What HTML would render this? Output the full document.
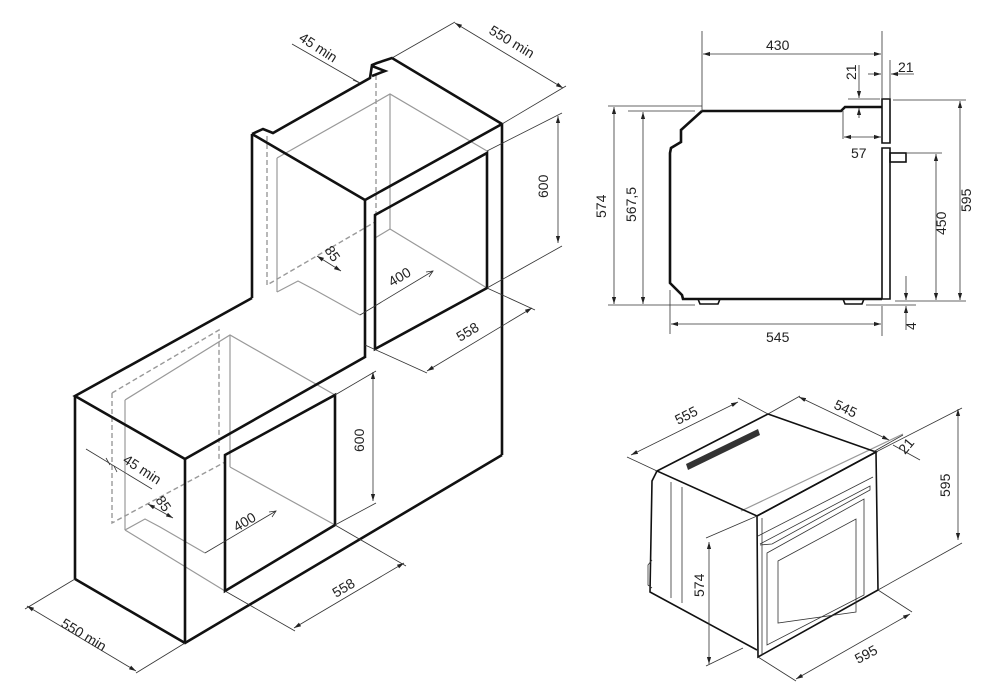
<!DOCTYPE html>
<html><head><meta charset="utf-8"><style>
html,body{margin:0;padding:0;background:#fff}
svg{display:block}
text{font-family:"Liberation Sans",sans-serif;font-size:14px;fill:#222}
.k{stroke:#111;stroke-width:2.6;fill:none;stroke-linejoin:miter}
.g{stroke:#999;stroke-width:1.2;fill:none}
.d{stroke:#999;stroke-width:1.4;fill:none;stroke-dasharray:5 3}
.t{stroke:#333;stroke-width:0.8;fill:none}
.a{stroke:#333;stroke-width:0.8;fill:none;marker-start:url(#ar);marker-end:url(#ar)}
.m{stroke:#111;stroke-width:1.6;fill:none}
</style></head><body>
<svg width="1000" height="698" viewBox="0 0 1000 698" xmlns="http://www.w3.org/2000/svg">
<defs><marker id="ar" viewBox="0 0 10 10" refX="10" refY="5" markerWidth="7" markerHeight="7" orient="auto-start-reverse" markerUnits="userSpaceOnUse"><path d="M0,2 L10,5 L0,8 z" fill="#222"/></marker></defs>

<!-- UPPER CABINET -->
<g>
<polyline class="g" points="277,158 390,94 487,151"/>
<line class="g" x1="277" y1="158" x2="277" y2="292"/>
<line class="g" x1="390" y1="94" x2="390" y2="229"/>
<line class="g" x1="390" y1="229" x2="487" y2="288"/>
<line class="g" x1="390" y1="229" x2="375" y2="238"/>
<polyline class="g" points="277,292 298,281 315,290 360,315"/>
<polyline class="d" points="267,136 267,285 375,222"/>
<line class="d" x1="376" y1="75" x2="376" y2="217"/>
<polyline class="k" points="252,134 252,298"/>
<polyline class="k" points="252,134 263,129 273,133 370,78 372,65 377,63 392,58 502,124 502,455"/>
<polyline class="k" points="372,66 385,71 372,76"/>
<polyline class="k" points="252,134 365,200 502,124"/>
<line class="k" x1="365" y1="200" x2="365" y2="358"/>
<polygon class="k" points="375,215 487,153 487,288 375,349"/>
</g>

<!-- LOWER CABINET -->
<g>
<polyline class="g" points="125,400 230,335 335,395"/>
<line class="g" x1="125" y1="400" x2="125" y2="530"/>
<line class="g" x1="230" y1="335" x2="230" y2="467"/>
<line class="g" x1="230" y1="467" x2="335" y2="525"/>
<polyline class="g" points="125,530 145,519 160,527 205,553"/>
<polyline class="g" points="125,530 225,591"/>
<polyline class="d" points="112,393 219,330 219,459"/>
<polyline class="d" points="112,393 112,523 225,462"/>
<polyline class="k" points="252,298 75,396 185,459 365,357"/>
<line class="k" x1="75" y1="396" x2="75" y2="579"/>
<line class="k" x1="185" y1="459" x2="185" y2="643"/>
<polyline class="k" points="75,579 185,643 502,455"/>
<polygon class="k" points="225,455 335,395 335,525 225,591"/>
</g>

<!-- Upper dims -->
<line class="t" x1="292" y1="44" x2="360" y2="83"/>
<polyline class="t" points="353,80 360,83"/>
<text transform="translate(298,40) rotate(33)">45 min</text>
<line class="t" x1="392" y1="58" x2="455" y2="22"/>
<line class="t" x1="502" y1="124" x2="566" y2="86"/>
<line class="a" x1="455" y1="23" x2="563" y2="88"/>
<text transform="translate(488,33) rotate(31)">550 min</text>
<line class="t" x1="487" y1="151" x2="562" y2="113"/>
<line class="t" x1="487" y1="288" x2="562" y2="246"/>
<line class="a" x1="558" y1="116" x2="558" y2="243"/>
<text transform="translate(548,198) rotate(-90)">600</text>
<line class="t" x1="487" y1="288" x2="535" y2="310"/>
<line class="t" x1="365" y1="345" x2="427" y2="373"/>
<line class="a" x1="427" y1="371" x2="532" y2="308"/>
<text transform="translate(460,342) rotate(-31)">558</text>
<line class="a" x1="317" y1="256" x2="341" y2="271"/>
<text transform="translate(324,250) rotate(55)">85</text>
<line class="t" x1="360" y1="315" x2="433" y2="271"/>
<polyline class="t" points="426,272 433,271 429,277"/>
<text transform="translate(392,287) rotate(-31)">400</text>

<!-- Lower dims -->
<line class="t" x1="86" y1="449" x2="152" y2="489"/>
<polyline class="t" points="106,458 110,465"/><polyline class="t" points="114,466 117,472"/>
<text transform="translate(122,462) rotate(33)">45 min</text>
<line class="a" x1="148" y1="504" x2="173" y2="518"/>
<text transform="translate(155,500) rotate(55)">85</text>
<line class="t" x1="205" y1="553" x2="276" y2="511"/>
<polyline class="t" points="269,512 276,511 272,517"/>
<text transform="translate(237,532) rotate(-31)">400</text>
<line class="t" x1="335" y1="395" x2="376" y2="371"/>
<line class="t" x1="335" y1="525" x2="376" y2="503"/>
<line class="a" x1="373" y1="372" x2="373" y2="501"/>
<text transform="translate(364,452) rotate(-90)">600</text>
<line class="t" x1="335" y1="525" x2="406" y2="566"/>
<line class="t" x1="225" y1="591" x2="295" y2="631"/>
<line class="a" x1="294" y1="628" x2="404" y2="563"/>
<text transform="translate(336,598) rotate(-31)">558</text>
<line class="t" x1="75" y1="579" x2="25" y2="609"/>
<line class="t" x1="185" y1="643" x2="136" y2="673"/>
<line class="a" x1="27" y1="606" x2="136" y2="671"/>
<text transform="translate(60,626) rotate(31)">550 min</text>

<!-- SIDE VIEW -->
<g>
<polyline class="k" points="702,111 841,111 845,107 882,107"/>
<polyline class="k" points="702,111 681,130 681,142 671,148 670,153 670,283 682,295 683,299 882,299"/>
<path class="m" d="M698,299 L700,304 L718,304 L720,299 M843,299 L845,304 L862,304 L864,299"/>
<path class="m" d="M882,99 L890,99 L890,143 L882,143 Z M882,148 L890,148 L890,299 L882,299 Z"/>
<rect class="m" x="890" y="153" width="16" height="9"/>
<line class="t" x1="702" y1="31" x2="702" y2="111"/>
<line class="t" x1="882" y1="31" x2="882" y2="99"/>
<line class="a" x1="703" y1="54" x2="881" y2="54"/>
<text x="766" y="50">430</text>
<polyline class="a" style="marker-start:none" points="868,74 881,74"/>
<polyline class="a" style="marker-start:none" points="914,74 891,74"/>
<line class="t" x1="890" y1="60" x2="890" y2="99"/>
<text x="898" y="72">21</text>
<line class="t" x1="848" y1="99" x2="880" y2="99"/>
<polyline class="a" style="marker-start:none" points="859,65 859,98"/>
<polyline class="a" style="marker-start:none" points="859,118 859,108"/>
<text transform="translate(856,80) rotate(-90)">21</text>
<line class="t" x1="843" y1="111" x2="843" y2="139"/>
<line class="a" x1="844" y1="137" x2="881" y2="137"/>
<text x="851" y="158">57</text>
<line class="t" x1="608" y1="106" x2="702" y2="106"/>
<line class="t" x1="628" y1="111" x2="695" y2="111"/>
<line class="t" x1="608" y1="305" x2="695" y2="305"/>
<line class="a" x1="614" y1="107" x2="614" y2="304"/>
<text transform="translate(606,218) rotate(-90)">574</text>
<line class="a" x1="643" y1="112" x2="643" y2="304"/>
<text transform="translate(636,222) rotate(-90)">567,5</text>
<line class="t" x1="670" y1="290" x2="670" y2="334"/>
<line class="t" x1="882" y1="306" x2="882" y2="336"/>
<line class="a" x1="671" y1="324" x2="881" y2="324"/>
<text x="766" y="342">545</text>
<line class="t" x1="893" y1="100" x2="966" y2="100"/>
<line class="t" x1="895" y1="301" x2="966" y2="301"/>
<line class="a" x1="960" y1="101" x2="960" y2="300"/>
<text transform="translate(971,212) rotate(-90)">595</text>
<line class="t" x1="907" y1="153" x2="942" y2="153"/>
<line class="a" x1="936" y1="154" x2="936" y2="300"/>
<text transform="translate(946,235) rotate(-90)">450</text>
<line class="t" x1="866" y1="305" x2="916" y2="305"/>
<polyline class="a" style="marker-start:none" points="906,276 906,300"/>
<polyline class="a" style="marker-start:none" points="906,330 906,306"/>
<text transform="translate(916,330) rotate(-90)">4</text>
</g>

<!-- PERSPECTIVE OVEN -->
<g>
<line class="g" x1="741" y1="511" x2="903" y2="434"/>
<polygon class="m" points="657,471 768,414 876,452 757,516"/>
<polyline class="m" points="657,471 652,481 650,592 757,650"/>
<polyline class="t" points="652,560 648,565 648,585 652,588"/>
<line class="t" x1="671" y1="482" x2="671" y2="598"/>
<line class="t" x1="682" y1="487" x2="682" y2="603"/>
<polygon class="m" points="757,516 876,452 878,590 758,657"/>
<line class="t" x1="762" y1="518" x2="762" y2="655"/>
<polyline class="t" points="758,536 873,477"/>
<polyline class="t" points="760,544 870,486 870,490 772,544 760,545"/>
<polygon class="t" points="767,553 864,499 864,595 767,645"/>
<polygon class="t" points="778,561 856,519 856,612 778,623"/>
<polygon fill="#333" points="686,464 758,429 760,435 688,470"/>
<line class="t" x1="627" y1="457" x2="657" y2="471"/>
<line class="t" x1="738" y1="398" x2="768" y2="414"/>
<line class="a" x1="631" y1="455" x2="738" y2="402"/>
<text transform="translate(678,425) rotate(-27)">555</text>
<line class="t" x1="768" y1="414" x2="800" y2="396"/>
<line class="a" x1="799" y1="397" x2="889" y2="440"/>
<text transform="translate(833,408) rotate(25)">545</text>
<line class="t" x1="873" y1="452" x2="903" y2="435"/>
<line class="t" x1="893" y1="445" x2="920" y2="460"/>
<text transform="translate(905,455) rotate(-50)">21</text>
<line class="t" x1="876" y1="452" x2="962" y2="408"/>
<line class="t" x1="878" y1="590" x2="962" y2="543"/>
<line class="a" x1="958" y1="409" x2="958" y2="540"/>
<text transform="translate(950,497) rotate(-90)">595</text>
<line class="t" x1="706" y1="538" x2="757" y2="516"/>
<line class="t" x1="706" y1="666" x2="743" y2="648"/>
<line class="a" x1="709" y1="542" x2="709" y2="664"/>
<text transform="translate(704,597) rotate(-90)">574</text>
<line class="t" x1="758" y1="657" x2="796" y2="681"/>
<line class="t" x1="878" y1="590" x2="912" y2="612"/>
<line class="a" x1="796" y1="679" x2="910" y2="614"/>
<text transform="translate(858,664) rotate(-28)">595</text>
</g>
</svg>
</body></html>
